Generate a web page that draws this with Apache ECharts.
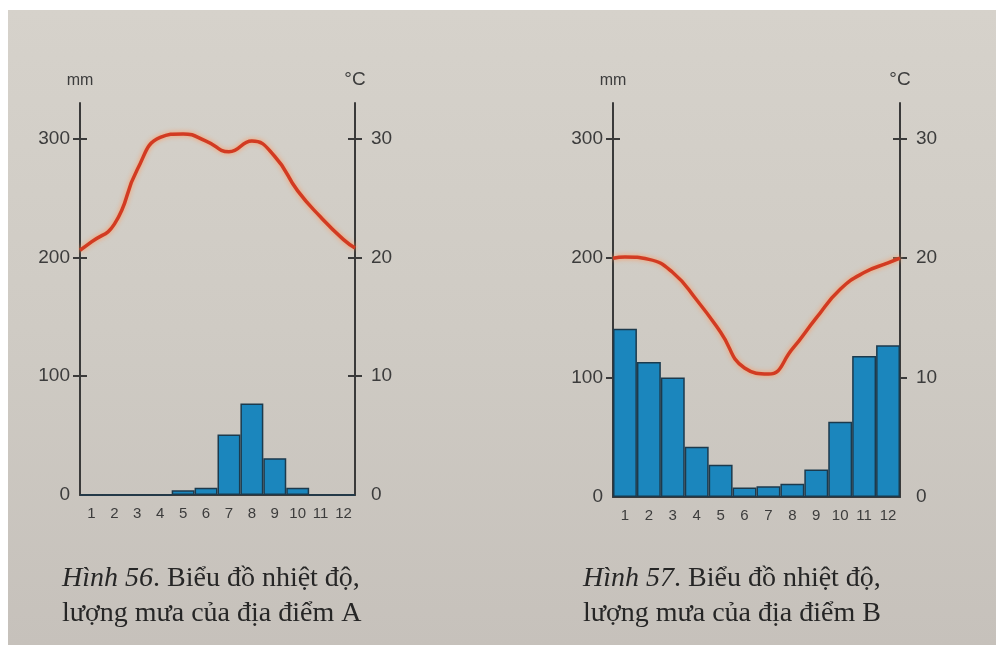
<!DOCTYPE html>
<html>
<head>
<meta charset="utf-8">
<script src="https://cdn.jsdelivr.net/npm/echarts@6/dist/echarts.min.js"></script>
<style>
html,body{margin:0;padding:0;background:#fff;}
#c{width:996px;height:645px;}
</style>
</head>
<body>
<div id="c"></div>
<script>
// ---- data ----
var months = ['1','2','3','4','5','6','7','8','9','10','11','12'];
var rainTicks = [0,100,200,300];
var tempTicks = [0,10,20,30];
// Location A
var rainA = [0,0,0,0,4,6,51,77,31,6,0,0];
var tempPosA = [0.5,1,2,3,4,5,6,7,8,9,10,11,12,12.5];
var tempA = [20.6,21.3,22.8,27.4,30.1,30.4,29.8,28.9,29.8,28.5,25.6,23.4,21.5,20.8];
// Location B
var rainB = [141,113,100,42,27,8,9,11,23,63,118,127];
var tempPosB = [0.5,1,2,3,4,5,6,7,8,9,10,11,12,12.5];
var tempB = [20.0,20.1,19.9,18.8,16.5,13.8,10.8,10.3,12.4,15.0,17.4,18.8,19.6,20.0];

function pairs(xs, ys){ return xs.map(function(x,i){ return [x, ys[i]]; }); }

var axisColor = '#3a3a3a';
var labelColor = '#3c3c3c';
var sans = '"Liberation Sans Narrow","Liberation Sans",Arial,sans-serif';
var serif = '"Liberation Serif","DejaVu Serif",serif';

function catAxis(g){
  return {type:'category', gridIndex:g, data:months, boundaryGap:true,
    axisLine:{show:true, lineStyle:{color:axisColor, width:2}},
    axisTick:{show:false},
    axisLabel:{color:labelColor, fontSize:15, fontFamily:sans, margin:11}};
}
function valXAxis(g){
  return {type:'value', gridIndex:g, min:0.5, max:12.5, show:false};
}
function yAx(g, pos, max, ticks, name, nameSize, inside, showLabel, margin){
  return {type:'value', gridIndex:g, position:pos, min:0, max:max,
    name: name, nameLocation:'end', nameGap:14,
    nameTextStyle:{color:labelColor, fontSize:nameSize, fontFamily:sans, align:'center'},
    splitLine:{show:false},
    axisLine:{show:!inside, onZero:false, lineStyle:{color:axisColor, width:2}},
    axisTick:{show:true, inside:inside, length:7, customValues: ticks.slice(1), lineStyle:{color:axisColor, width:2}},
    axisLabel:{show:showLabel, customValues: ticks, color:labelColor, fontSize:19, fontFamily:sans, margin:margin}};
}
function caption(x, text){
  return {type:'text', left:x, top:561, style:{
    text:text, font:'28px ' + serif, fill:'#262626', lineHeight:35,
    rich:{i:{fontStyle:'italic', fontSize:28, fontFamily:serif, fill:'#262626'},
          n:{fontSize:28, fontFamily:serif, fill:'#262626'}}}};
}

var chart = echarts.init(document.getElementById('c'));
chart.setOption({
  backgroundColor:'#ffffff',
  animation:false,
  graphic:[
    {type:'rect', z:-10, shape:{x:8, y:10, width:988, height:635},
      style:{fill:{type:'linear', x:0, y:0, x2:0, y2:1, colorStops:[
        {offset:0, color:'#d6d2cb'},{offset:0.5, color:'#cfcbc4'},{offset:1, color:'#c6c1bb'}]}}},
    caption(62, '{i|Hình 56}{n|. Biểu đồ nhiệt độ,}\n{n|lượng mưa của địa điểm A}'),
    caption(583, '{i|Hình 57}{n|. Biểu đồ nhiệt độ,}\n{n|lượng mưa của địa điểm B}')
  ],
  grid:[
    {left:80, top:103, width:275, height:392},
    {left:613, top:103, width:287, height:394}
  ],
  xAxis:[catAxis(0), valXAxis(0), catAxis(1), valXAxis(1)],
  yAxis:[
    yAx(0,'left',330,rainTicks,'mm',16,false,true,10),
    yAx(0,'right',33,tempTicks,'°C',19,false,true,16),
    yAx(1,'left',330,rainTicks,'mm',16,false,true,10),
    yAx(1,'right',33,tempTicks,'°C',19,false,true,16),
    yAx(0,'left',330,rainTicks,'',16,true,false,10),
    yAx(0,'right',33,tempTicks,'',16,true,false,16),
    yAx(1,'left',330,rainTicks,'',16,true,false,10),
    yAx(1,'right',33,tempTicks,'',16,true,false,16)
  ],
  series:[
    {type:'bar', xAxisIndex:0, yAxisIndex:0, data:rainA, barCategoryGap:'0%',
      itemStyle:{color:'#1b86bd', borderColor:'#1c3a4d', borderWidth:1.5}},
    {type:'line', xAxisIndex:1, yAxisIndex:1, data:pairs(tempPosA,tempA), smooth:0.5, symbol:'none',
      lineStyle:{color:'#d23b22', width:3.5, shadowColor:'rgba(255,150,90,0.95)', shadowBlur:5}},
    {type:'bar', xAxisIndex:2, yAxisIndex:2, data:rainB, barCategoryGap:'0%',
      itemStyle:{color:'#1b86bd', borderColor:'#1c3a4d', borderWidth:1.5}},
    {type:'line', xAxisIndex:3, yAxisIndex:3, data:pairs(tempPosB,tempB), smooth:0.5, symbol:'none',
      lineStyle:{color:'#d23b22', width:3.5, shadowColor:'rgba(255,150,90,0.95)', shadowBlur:5}}
  ]
});
</script>
</body>
</html>
